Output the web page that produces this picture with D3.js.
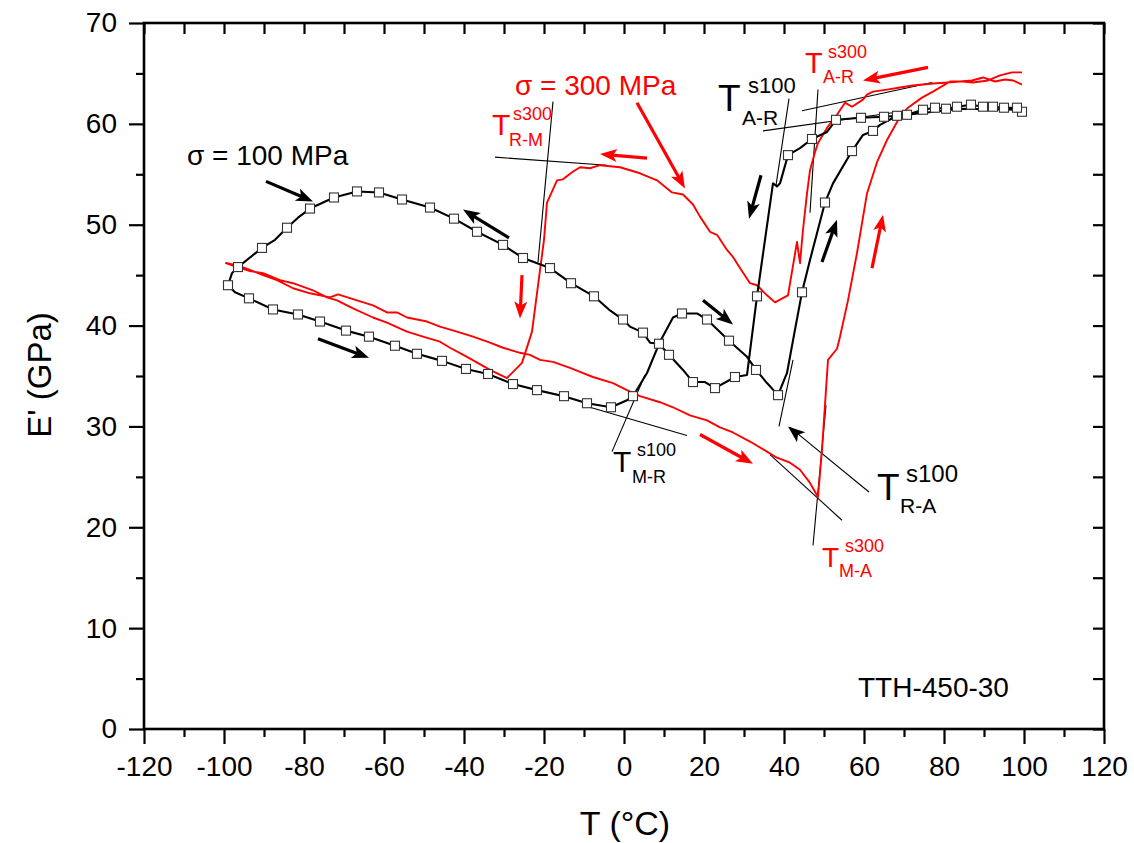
<!DOCTYPE html>
<html><head><meta charset="utf-8">
<script src="https://cdn.jsdelivr.net/npm/d3@7/dist/d3.min.js"></script>
<style>body{margin:0;background:#fff} svg{display:block} text{font-family:"Liberation Sans",Arial,sans-serif}</style>
</head><body><svg id="c" width="1134" height="843"></svg>
<script>
// ---------- data ----------
const xMajor = [-120,-100,-80,-60,-40,-20,0,20,40,60,80,100,120];
const xMinor = [-110,-90,-70,-50,-30,-10,10,30,50,70,90,110];
const yMajor = [0,10,20,30,40,50,60,70];
const yMinor = [5,15,25,35,45,55,65];

// sigma = 100 MPa (black, squares)
const b100T = [99.5,98.25,95,92.25,89.75,86.75,83.25,80.5,77.75,74.75,70.75,68.25,65,59.25,53,50.75,47,44,41,39,38.25,37.25,33.25,30.75,27.75,22.75,20.25,17.25,14.75,11.25,8.75,6.5,4.75,1.5,-0.25,-3.5,-7.5,-13.25,-18.5,-25.25,-30.25,-36.75,-42.5,-48.5,-55.5,-61.25,-66.75,-72.5,-78.5,-81.5,-84.25,-87.25,-90.5,-96.5,-98,-99,-97.25,-93.75,-87.75,-81.5,-76,-69.5,-63.75,-57.25,-51.75,-45.5,-39.5,-34,-27.75,-21.75,-15,-9.25,-3.25,0.75,2.25,5.75,9,12.25,14.5,18.25,20.75,26.25,30.75,33,35.75,38.5,40.75,42.75,44.5,46.5,50.25,52.25,57,59.75,62.25,64,68.25,70.75,84,99];
const b100E = [61.2,61.6,61.6,61.7,61.7,61.9,61.7,61.5,61.6,61.4,60.9,60.8,60.7,60.6,60.4,59.2,58.5,57.6,56.9,54.1,53.8,54.1,42.9,35.1,34.9,33.8,34.4,34.4,35.6,37.1,38.2,38.3,39.3,39.9,40.6,41.5,42.9,44.2,45.7,46.7,48.0,49.3,50.6,51.7,52.5,53.2,53.3,52.7,51.6,50.7,49.7,48.5,47.7,45.8,45.2,44.0,43.3,42.7,41.6,41.1,40.4,39.5,38.9,38.0,37.2,36.5,35.7,35.2,34.2,33.6,33.0,32.3,31.9,32.6,33.0,35.3,38.4,40.8,41.2,41.2,40.6,38.5,36.9,35.6,34.3,33.1,35.3,39.6,43.3,46.5,52.2,54.1,57.3,58.9,59.3,59.9,60.8,60.9,61.5,61.4];
const b100Mark = [1,1,1,1,1,1,1,1,1,1,1,1,1,1,1,0,1,0,1,0,0,0,1,0,1,1,0,1,0,1,1,0,1,0,1,0,1,1,1,1,1,1,1,1,1,1,1,1,1,0,1,0,1,1,0,1,0,1,1,1,1,1,1,1,1,1,1,1,1,1,1,1,1,0,1,0,0,0,1,0,1,1,0,1,0,1,0,0,1,0,1,0,1,0,1,0,0,0,0,0];

// sigma = 300 MPa (red)
const r300T = [99.5,97.25,95.25,92.75,89.75,87,84,81,77.25,72.25,69,65.75,62.25,60.75,59.75,57,55.25,53.25,50.75,48.5,47.75,46.5,45.75,44.75,44,43.25,41,37.75,35.75,33.25,31.5,29,27.25,25.75,23.25,21.5,19,17.25,14.75,12,8.25,4,-1,-6,-8.5,-11,-13,-15.25,-16.75,-19.25,-20,-21,-23,-25.5,-29.25,
  -33.5,-39.25,-43.5,-46,-50.25,-54.25,-59.25,-62.75,-67.75,-71.75,-74.25,-77.75,-82.75,-86,-90.25,-93.5,-96.75,-99.5,
  -96,-90.25,-86.75,-82.75,-78.5,-73.5,-71.5,-66.75,-62.75,-59.25,-56.75,-54.25,-49.25,-46,-41.75,-37.75,-33.5,-30.25,-26,-23.5,-21,-17.75,-13.5,-11,-7.75,-2.75,0.75,4,9,12.25,16.5,20.75,24,27.25,31.5,35.75,38.25,41.5,44,46.5,48.5,49.5,51,53.25,54,56,58.25,60.75,63.25,65.75,69,71,74.5,77.25,81.5,84.75,87.25,91,94,97,99.5];
const r300E = [63.9,64.3,64.4,64.2,64.6,64.3,64.2,64.1,64.0,63.8,63.6,63.4,63.2,62.9,62.4,61.7,62.1,60.9,59.6,58.1,57.2,55.4,53.1,49.5,46.2,48.3,43.0,42.3,43.0,44.0,44.2,45.7,46.8,47.5,49.0,49.3,50.8,52.0,53.0,53.2,54.4,55.1,55.7,55.9,55.6,55.7,55.2,54.5,54.4,52.2,48.5,45.5,39.4,36.3,34.8,
  35.6,36.9,37.8,38.4,38.9,39.4,40.3,40.8,41.7,42.5,42.8,43.5,44.2,44.5,45.2,45.4,45.8,46.2,
  45.9,45.0,44.5,43.7,43.2,42.8,43.1,42.5,42.0,41.3,41.3,40.8,40.4,39.9,39.4,38.9,38.3,37.8,37.3,37.1,36.6,36.4,35.8,35.4,34.9,34.3,33.6,33.0,32.4,31.9,31.1,30.6,29.9,29.4,28.5,27.5,26.9,26.4,25.7,24.4,23.0,27.7,36.6,37.7,38.9,42.5,47.2,53.1,56.2,58.4,60.7,61.6,62.6,63.2,64.2,64.2,64.1,64.3,64.8,65.1,65.1];

// tangent construction lines [T1,E1,T2,E2]
const tangents = [
  [-17.75,62.2,-21.5,46.3], [-32.25,56.7,-4.25,55.9],      // Ts300 R-M
  [-3,27.5,5.25,35.1], [-10.25,32.1,15.75,29.1],           // Ts100 M-R
  [61.25,23.5,41.5,29.9], [38.75,30.0,42.25,36.6],         // Ts100 R-A
  [47.25,18.2,50.5,32.1], [36.5,27.2,54.5,20.7],           // Ts300 M-A
  [41.25,62.5,38,53.9], [34.75,59.3,69,61.2],              // Ts100 A-R
  [48.5,63.4,46.5,51.2], [44.5,61.3,77,64.1]               // Ts300 A-R
];
// direction arrows [T1,E1,T2,E2]
const blackArrows = [
  [-89.5,54.3,-77.75,52.3], [-28.75,48.7,-40.25,51.5], [-76.5,38.7,-63.75,36.8],
  [19.75,42.5,27.25,40.1], [34.25,54.9,31.25,50.6], [49.5,46.3,53.25,50.5]
];
const blackHeads = [[46.5,28.2,41,30.0]];
const redArrows = [
  [3.25,62.1,15.25,53.6], [5.75,56.6,-6,57.0], [-25.5,45.0,-26,40.7],
  [19,29.2,32.25,26.3], [76,65.6,59.75,64.3], [62,45.7,64.75,51.0]
];

// ---------- chart ----------
const svg = d3.select("#c");
const x = d3.scaleLinear().domain([-120,120]).range([144,1104]);
const y = d3.scaleLinear().domain([0,70]).range([729,23]);
const fmt = d => String(d);

const axes = svg.append("g");
function styleAxis(g){ g.select(".domain").remove(); g.selectAll("line").attr("stroke","#000").attr("stroke-width",2.2); }
axes.append("g").attr("transform","translate(0,729)").call(d3.axisBottom(x).tickValues(xMajor).tickSize(15).tickPadding(12).tickFormat(fmt))
  .call(styleAxis).selectAll("text").attr("font-size",28).attr("fill","#000").attr("font-family","Liberation Sans, Arial, sans-serif");
axes.append("g").attr("transform","translate(0,729)").call(d3.axisBottom(x).tickValues(xMinor).tickSize(8).tickFormat(""))
  .call(styleAxis);
axes.append("g").attr("transform","translate(144,0)").call(d3.axisLeft(y).tickValues(yMajor).tickSize(15).tickPadding(12).tickFormat(fmt))
  .call(styleAxis).selectAll("text").attr("font-size",28).attr("fill","#000").attr("font-family","Liberation Sans, Arial, sans-serif");
axes.append("g").attr("transform","translate(144,0)").call(d3.axisLeft(y).tickValues(yMinor).tickSize(8).tickFormat(""))
  .call(styleAxis);
axes.append("g").attr("transform","translate(0,23)").call(d3.axisTop(x).tickValues(xMajor.concat(xMinor)).tickSize(-11).tickFormat(""))
  .call(styleAxis);
axes.append("g").attr("transform","translate(1104,0)").call(d3.axisRight(y).tickValues(yMajor.concat(yMinor)).tickSize(-11).tickFormat(""))
  .call(styleAxis);
svg.append("rect").attr("x",x(-120)).attr("y",y(70)).attr("width",x(120)-x(-120)).attr("height",y(0)-y(70))
  .attr("fill","none").attr("stroke","#000").attr("stroke-width",2.6);

// axis titles
svg.append("text").attr("x",625).attr("y",835).attr("text-anchor","middle").attr("font-size",34).text("T (°C)");
svg.append("text").attr("transform","translate(51,375) rotate(-90)").attr("text-anchor","middle").attr("font-size",33).text("E' (GPa)");

// tangents
const plot = svg.append("g");
plot.selectAll("line.tan").data(tangents).join("line").attr("class","tan")
  .attr("x1",d=>x(d[0])).attr("y1",d=>y(d[1])).attr("x2",d=>x(d[2])).attr("y2",d=>y(d[3]))
  .attr("stroke","#000").attr("stroke-width",1.1);

// curves
const line = d3.line().x(d=>x(d[0])).y(d=>y(d[1]));
const redPts = r300T.map((t,i)=>[t,r300E[i]]);
const blkPts = b100T.map((t,i)=>[t,b100E[i],b100Mark[i]]);
plot.append("path").attr("d",line(redPts)).attr("fill","none").attr("stroke","#ff0000").attr("stroke-width",1.9).attr("stroke-linejoin","round");
plot.append("path").attr("d",line(blkPts)).attr("fill","none").attr("stroke","#000").attr("stroke-width",2.1).attr("stroke-linejoin","round");
plot.selectAll("rect.m").data(blkPts.filter(d=>d[2])).join("rect").attr("class","m")
  .attr("x",d=>x(d[0])-4.5).attr("y",d=>y(d[1])-4.5).attr("width",9).attr("height",9)
  .attr("fill","#fff").attr("stroke","#333").attr("stroke-width",1.1);

// arrows
function arrow(d,color,shaft){
  const x1=x(d[0]),y1=y(d[1]),x2=x(d[2]),y2=y(d[3]);
  const dx=x2-x1, dy=y2-y1, L=Math.hypot(dx,dy), ux=dx/L, uy=dy/L;
  const hl=17, hw=6.5;
  const bx=x2-ux*hl, by=y2-uy*hl;
  if(shaft) plot.append("line").attr("x1",x1).attr("y1",y1).attr("x2",x2-ux*hl*0.7).attr("y2",y2-uy*hl*0.7)
    .attr("stroke",color).attr("stroke-width",3.2);
  plot.append("path").attr("d",`M${x2},${y2}L${bx-uy*hw},${by+ux*hw}L${bx+ux*4},${by+uy*4}L${bx+uy*hw},${by-ux*hw}Z`).attr("fill",color);
}
blackArrows.forEach(d=>arrow(d,"#000",true));
blackHeads.forEach(d=>arrow(d,"#000",false));
redArrows.forEach(d=>arrow(d,"#ff0000",true));

// annotations
function txt(T,E,s,size,color){ plot.append("text").attr("x",x(T)).attr("y",y(E)).attr("font-size",size).attr("fill",color).text(s); }
txt(-109.25,55.92,"σ = 100 MPa",28,"#000");
txt(-27.25,62.86,"σ = 300 MPa",28,"#ff0000");
txt(58.5,3.17,"TTH-450-30",28,"#000");
const tl = [
  {T:[-33,58.89],ts:30,sup:[-27.75,60.38],sub:[-28.75,57.80],ss:18,bs:18,s:"s300",b:"R-M",c:"#ff0000"},
  {T:[23.5,61.27],ts:37,sup:[31,63.06],sub:[29.5,59.89],ss:22,bs:21,s:"s100",b:"A-R",c:"#000"},
  {T:[45.25,65.04],ts:29,sup:[51,66.53],sub:[49.75,64.05],ss:18,bs:18,s:"s300",b:"A-R",c:"#ff0000"},
  {T:[-2.75,25.48],ts:30,sup:[3.25,27.07],sub:[2,24.39],ss:18,bs:18,s:"s100",b:"M-R",c:"#000"},
  {T:[63.25,22.70],ts:37,sup:[70.5,24.49],sub:[69,21.42],ss:24,bs:21,s:"s100",b:"R-A",c:"#000"},
  {T:[49.5,16.06],ts:28,sup:[55.25,17.55],sub:[53.75,15.07],ss:18,bs:18,s:"s300",b:"M-A",c:"#ff0000"}
];
tl.forEach(l=>{
  txt(l.T[0],l.T[1],"T",l.ts,l.c);
  txt(l.sup[0],l.sup[1],l.s,l.ss,l.c);
  txt(l.sub[0],l.sub[1],l.b,l.bs,l.c);
});
</script></body></html>
